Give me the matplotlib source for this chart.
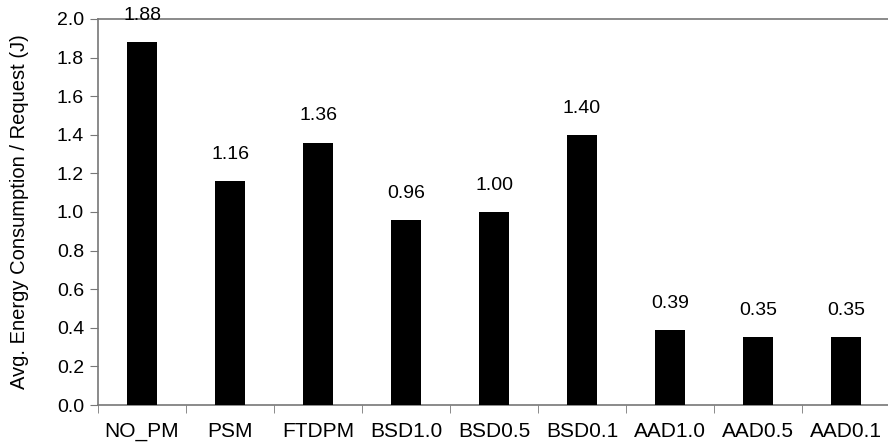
import numpy as np
import matplotlib
matplotlib.use("Agg")
import matplotlib.pyplot as plt

# Data
categories = ["NO_PM", "PSM", "FTDPM", "BSD1.0", "BSD0.5", "BSD0.1",
              "AAD1.0", "AAD0.5", "AAD0.1"]
energy = [1.88, 1.16, 1.36, 0.96, 1.00, 1.40, 0.39, 0.35, 0.35]
value_labels = ["1.88", "1.16", "1.36", "0.96", "1.00", "1.40",
                "0.39", "0.35", "0.35"]
y_ticks = [0.0, 0.2, 0.4, 0.6, 0.8, 1.0, 1.2, 1.4, 1.6, 1.8, 2.0]

plt.rcParams['font.family'] = ['Liberation Sans', 'DejaVu Sans']

fig = plt.figure(figsize=(8.88, 4.48), dpi=100)
ax = fig.add_axes([98 / 888, 43 / 448, 792 / 888, 386 / 448])

x = np.arange(len(categories))
ax.bar(x, energy, width=0.34, color="black", zorder=3)

for xi, v, lab in zip(x, energy, value_labels):
    ax.annotate(lab, (xi, v), xytext=(0, 13), textcoords="offset points",
                ha="center", va="bottom", fontsize=14)

ax.set_xlim(-0.5, len(categories) - 0.5)
ax.set_ylim(0, 2.0)
ax.set_yticks(y_ticks)
ax.set_yticklabels([f"{t:.1f}" for t in y_ticks])

ax.set_xticks(x)
ax.set_xticklabels(categories, fontsize=15)
ax.set_xticks(np.arange(len(categories) + 1) - 0.5, minor=True)
ax.tick_params(axis="x", which="major", length=0, pad=12)
ax.tick_params(axis="x", which="minor", length=6, color="#777777", direction="out")
ax.tick_params(axis="y", length=6, color="#777777", direction="out", labelsize=14, pad=4)

ax.set_ylabel("Avg. Energy Consumption / Request (J)", fontsize=14.5, labelpad=20)

for side in ["left", "bottom", "top"]:
    ax.spines[side].set_color("#777777")
    ax.spines[side].set_linewidth(1.2)
ax.spines["right"].set_visible(False)

fig.savefig("out.png", dpi=100)
